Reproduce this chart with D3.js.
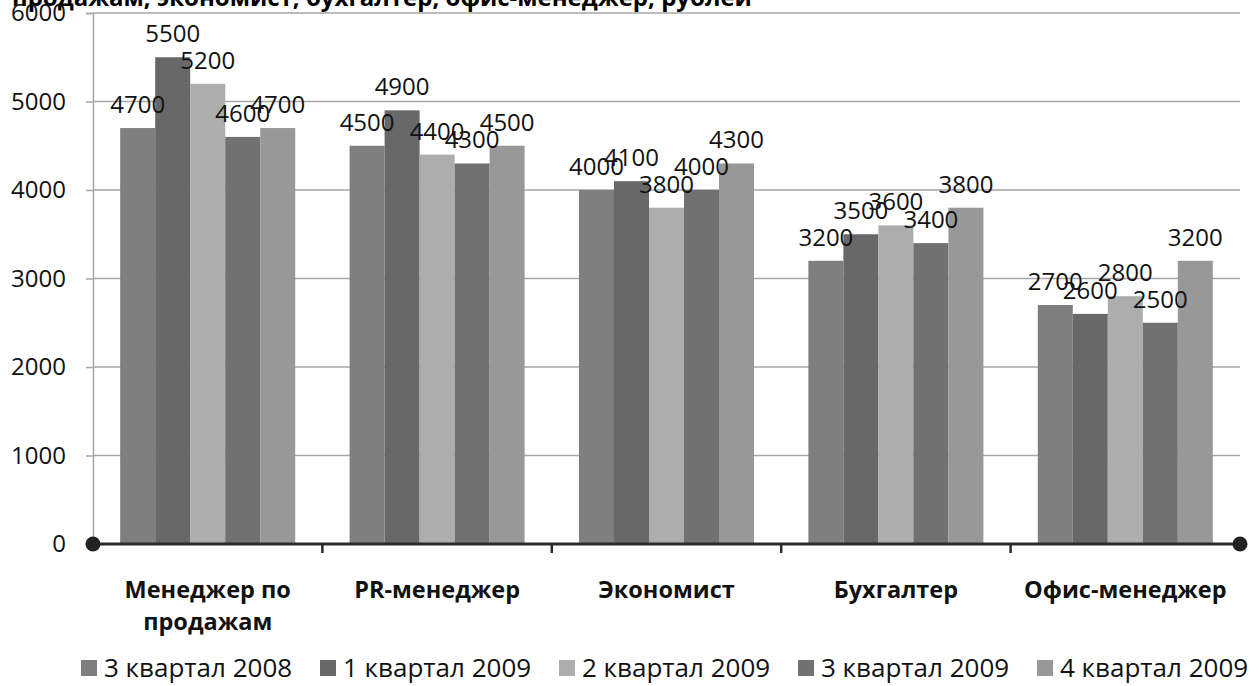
<!DOCTYPE html>
<html>
<head>
<meta charset="utf-8">
<script src="https://cdn.jsdelivr.net/npm/d3@7"></script>
<style>
  body { margin: 0; background: #fff; }
  svg { display: block; font-family: "Open Sans", sans-serif; }
</style>
</head>
<body>
<svg id="chart" width="1259" height="686"></svg>
<script>
// chart data
var categories = ["Менеджер по продажам", "PR-менеджер", "Экономист", "Бухгалтер", "Офис-менеджер"];
var seriesNames = ["3 квартал 2008", "1 квартал 2009", "2 квартал 2009", "3 квартал 2009", "4 квартал 2009"];
var q3_2008 = [4700, 4500, 4000, 3200, 2700];
var q1_2009 = [5500, 4900, 4100, 3500, 2600];
var q2_2009 = [5200, 4400, 3800, 3600, 2800];
var q3_2009 = [4600, 4300, 4000, 3400, 2500];
var q4_2009 = [4700, 4500, 4300, 3800, 3200];
var yTicks = [0, 1000, 2000, 3000, 4000, 5000, 6000];
var titleText = "продажам, экономист, бухгалтер, офис-менеджер, рублей";

var seriesValues = [q3_2008, q1_2009, q2_2009, q3_2009, q4_2009];
var colors = ["#7f7f7f", "#686868", "#adadad", "#717171", "#989898"];

var svg = d3.select("#chart");
var plotLeft = 93, plotRight = 1240, plotTop = 13, plotBottom = 544;

// scales
var x0 = d3.scaleBand().domain(categories).range([plotLeft, plotRight]).paddingInner(0.237).paddingOuter(0.1185);
var x1 = d3.scaleBand().domain(d3.range(seriesNames.length)).range([0, x0.bandwidth()]);
var y = d3.scaleLinear().domain([0, 6000]).range([plotBottom, plotTop]);

// title, cut off at the top like the source image
svg.append("text")
  .attr("x", 12).attr("y", 6)
  .attr("font-size", 24).attr("font-weight", "bold")
  .text(titleText);

// gridlines
svg.append("g")
  .selectAll("line")
  .data(yTicks.filter(function (d) { return d > 0; }))
  .enter().append("line")
  .attr("x1", plotLeft).attr("x2", plotRight)
  .attr("y1", function (d) { return y(d); })
  .attr("y2", function (d) { return y(d); })
  .attr("stroke", "#a6a6a6").attr("stroke-width", 1.5);

// y axis
var yAxis = svg.append("g")
  .attr("transform", "translate(" + plotLeft + ",0)")
  .call(d3.axisLeft(y).tickValues(yTicks).tickFormat(d3.format("d")).tickSize(7).tickPadding(20));
yAxis.select(".domain").attr("stroke", "#a6a6a6").attr("stroke-width", 1.5);
yAxis.selectAll(".tick line").attr("stroke", "#a6a6a6").attr("stroke-width", 1.5);
yAxis.selectAll(".tick text").attr("font-size", 24).attr("fill", "#111")
  .attr("font-family", "Open Sans, sans-serif");

// bars
var groups = svg.append("g")
  .selectAll("g")
  .data(categories)
  .enter().append("g")
  .attr("transform", function (d) { return "translate(" + x0(d) + ",0)"; });

groups.selectAll("rect")
  .data(function (d, i) { return seriesValues.map(function (s, j) { return { s: j, v: s[i] }; }); })
  .enter().append("rect")
  .attr("x", function (d) { return x1(d.s); })
  .attr("width", x1.bandwidth())
  .attr("y", function (d) { return y(d.v); })
  .attr("height", function (d) { return y(0) - y(d.v); })
  .attr("fill", function (d) { return colors[d.s]; });

// value labels
groups.selectAll("text.val")
  .data(function (d, i) { return seriesValues.map(function (s, j) { return { s: j, v: s[i] }; }); })
  .enter().append("text")
  .attr("class", "val")
  .attr("x", function (d) { return x1(d.s) + x1.bandwidth() / 2; })
  .attr("y", function (d) { return y(d.v) - 15; })
  .attr("text-anchor", "middle")
  .attr("font-size", 24).attr("fill", "#111")
  .text(function (d) { return d.v; });

// x axis
var xg = svg.append("g");
xg.append("line")
  .attr("x1", plotLeft).attr("x2", plotRight)
  .attr("y1", y(0)).attr("y2", y(0))
  .attr("stroke", "#2b2b2b").attr("stroke-width", 3);
xg.selectAll("line.tick")
  .data(categories.slice(1))
  .enter().append("line")
  .attr("class", "tick")
  .attr("x1", function (d) { return x0(d) - x0.step() * 0.1185; })
  .attr("x2", function (d) { return x0(d) - x0.step() * 0.1185; })
  .attr("y1", y(0)).attr("y2", y(0) + 9)
  .attr("stroke", "#2b2b2b").attr("stroke-width", 2.5);
xg.selectAll("circle")
  .data([plotLeft, plotRight])
  .enter().append("circle")
  .attr("cx", function (d) { return d; })
  .attr("cy", y(0))
  .attr("r", 7.5)
  .attr("fill", "#222");

// category labels (first one wraps to two lines)
var catLabels = xg.selectAll("text.cat")
  .data(categories)
  .enter().append("text")
  .attr("class", "cat")
  .attr("text-anchor", "middle")
  .attr("font-size", 23.5).attr("font-weight", "bold").attr("fill", "#111")
  .attr("transform", function (d) { return "translate(" + (x0(d) + x0.bandwidth() / 2) + ",598)"; });
catLabels.each(function (d) {
  var words = d === "Менеджер по продажам" ? ["Менеджер по", "продажам"] : [d];
  var t = d3.select(this);
  words.forEach(function (w, i) {
    t.append("tspan").attr("x", 0).attr("dy", i === 0 ? 0 : 32).text(w);
  });
});

// legend
var legend = svg.append("g")
  .selectAll("g")
  .data(seriesNames)
  .enter().append("g")
  .attr("transform", function (d, i) { return "translate(" + (81 + i * 239) + ",668)"; });
legend.append("rect")
  .attr("x", 0).attr("y", -8)
  .attr("width", 16).attr("height", 16)
  .attr("fill", function (d, i) { return colors[i]; });
legend.append("text")
  .attr("x", 23).attr("y", 9)
  .attr("font-size", 26).attr("fill", "#111")
  .text(function (d) { return d; });
</script>
</body>
</html>
